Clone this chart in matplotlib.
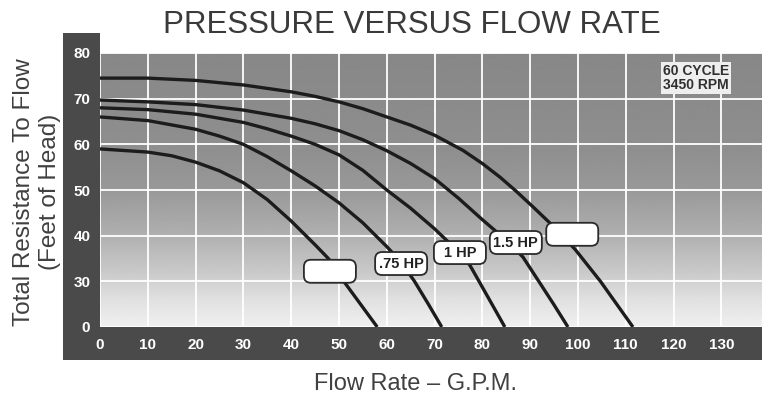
import numpy as np
import matplotlib.pyplot as plt
from matplotlib.patches import Rectangle, FancyBboxPatch
from matplotlib.transforms import ScaledTranslation

# head (ft) against flow (gpm) for each pump size, largest first
gpm_a = [0, 10, 20, 30, 40, 45, 50, 55, 60, 65, 70, 75.9, 80, 83.7, 87,
         90.6, 94.6, 99.4, 104.7, 108.1, 111.5]
head_a = [74.5, 74.5, 74, 73, 71.5, 70.5, 69.3, 67.8, 66, 64.2, 62, 58.7,
          55.8, 52.8, 49.8, 46.3, 42.3, 37, 30, 15, 0]

gpm_b = [0, 10, 20, 30, 40, 45, 50, 55, 60, 65, 70, 75, 80, 85, 88.5,
         91.8, 94.9, 97.9]
head_b = [69.7, 69.3, 68.7, 67.5, 65.7, 64.5, 63, 61, 58.6, 55.8, 52.5,
          48.2, 43.5, 39, 35.3, 30, 15, 0]

gpm_c = [0, 10, 20, 30, 35, 40, 45, 50, 55, 60, 65, 70, 75, 77.4, 79.3,
         82, 84.7]
head_c = [68, 67.6, 66.6, 64.8, 63.4, 61.8, 60, 57.7, 54.3, 50, 46, 41.5,
          36.5, 33.5, 30, 15, 0]

gpm_d = [0, 10, 20, 25, 30, 35, 40, 45, 50, 55, 60, 63, 65.8, 68.7, 71.5]
head_d = [66, 65.2, 63.3, 61.8, 60, 57.3, 54.2, 50.9, 47.2, 42.8, 37.6,
          34.2, 30, 15, 0]

gpm_e = [0, 10, 15, 20, 25, 30, 35, 40, 45, 47.5, 49.5, 51, 54.5, 58]
head_e = [59, 58.3, 57.5, 56.1, 54.2, 51.6, 47.9, 43.2, 38, 35.3, 32.9,
          30, 15, 0]

curves = [(gpm_a, head_a), (gpm_b, head_b), (gpm_c, head_c),
          (gpm_d, head_d), (gpm_e, head_e)]

# tags sitting on the curves
tag_text = ['', '.75 HP', '1 HP', '1.5 HP', '']
tag_gpm = [48.1, 63.0, 75.3, 87.0, 98.8]
tag_head = [32.2, 33.9, 36.3, 38.5, 40.3]

x_ticks = list(range(0, 140, 10))
y_ticks = [0, 30, 40, 50, 60, 70, 80]


# the axis is squeezed below 30 ft: 0-30 takes the room of one 10 ft band
def squeeze(y):
    y = np.asarray(y, dtype=float)
    return np.where(y >= 30, y, 20 + y / 3.0)


def unsqueeze(p):
    p = np.asarray(p, dtype=float)
    return np.where(p >= 30, p, (p - 20) * 3.0)


fig = plt.figure(figsize=(7.62, 3.96), dpi=100)
fig.patch.set_facecolor('white')
ax = fig.add_axes([100 / 762, 1 - 327 / 396, 662 / 762, 274 / 396])

# shaded background, darker at the top
frac = np.linspace(1, 0, 300)
shade = np.interp(frac, [0, 0.1, 0.2, 0.35, 0.5, 0.65, 1],
                  [0.94, 0.88, 0.79, 0.68, 0.6, 0.56, 0.53])
ax.imshow(shade[:, None], cmap='gray', vmin=0, vmax=1, extent=[0, 1, 0, 1],
          transform=ax.transAxes, aspect='auto', zorder=0,
          interpolation='bilinear')

ax.set_yscale('function', functions=(squeeze, unsqueeze))
ax.set_xlim(0, 138.5)
ax.set_ylim(0, 80)
ax.set_xticks(x_ticks)
ax.set_yticks(y_ticks)
ax.set_axisbelow(True)
ax.grid(True, color='white', lw=1.3)
for s in ax.spines.values():
    s.set_visible(False)
ax.tick_params(length=0, labelcolor='white')
ax.tick_params(axis='x', pad=8)
ax.tick_params(axis='y', pad=7)
for lab in ax.get_xticklabels() + ax.get_yticklabels():
    lab.set_fontfamily('Liberation Sans')
    lab.set_fontweight('bold')
    lab.set_fontsize(11)

for g, h in curves:
    ax.plot(g, h, color='#1c1c1c', lw=2.4, solid_joinstyle='round',
            solid_capstyle='butt', zorder=3)

for txt, g, h in zip(tag_text, tag_gpm, tag_head):
    tr = fig.dpi_scale_trans + ScaledTranslation(g, h, ax.transData)
    box = FancyBboxPatch((-0.26, -0.115), 0.52, 0.23,
                         boxstyle='round,pad=0,rounding_size=0.07',
                         facecolor='white', edgecolor='#2a2a2a', lw=1.3,
                         transform=tr, zorder=4, clip_on=False)
    ax.add_patch(box)
    if txt:
        ax.text(g, h, txt, ha='center', va='center', fontsize=10.5,
                fontweight='bold', color='#222222', zorder=5,
                family='Liberation Sans')

ax.text(0.9, 0.909, '60 CYCLE\n3450 RPM', transform=ax.transAxes,
        ha='center', va='center', multialignment='left', fontsize=10,
        fontweight='bold', color='#303030', family='Liberation Sans',
        linespacing=1.05, zorder=5,
        bbox=dict(boxstyle='square,pad=0.15', facecolor='#eeeeee',
                  edgecolor='none'))

# dark frame on the left and bottom
band = '#4a4a4a'
fig.patches.append(Rectangle((63 / 762, 1 - 360 / 396), 37 / 762, 327 / 396,
                             transform=fig.transFigure, facecolor=band,
                             edgecolor='none', zorder=-1))
fig.patches.append(Rectangle((63 / 762, 1 - 360 / 396), 699 / 762, 33 / 396,
                             transform=fig.transFigure, facecolor=band,
                             edgecolor='none', zorder=-1))

fig.text(0.541, 0.937, 'PRESSURE VERSUS FLOW RATE', ha='center', va='center',
         fontsize=22.5, color='#3a3a3a', family='Liberation Sans')
fig.text(24 / 762, 0.515, 'Total Resistance To Flow', rotation=90,
         ha='center', va='center', fontsize=17.5, color='#404040',
         family='Liberation Sans')
fig.text(50 / 762, 0.515, '(Feet of Head)', rotation=90,
         ha='center', va='center', fontsize=17.5, color='#404040',
         family='Liberation Sans')
fig.text(416 / 762, 1 - 384 / 396, 'Flow Rate – G.P.M.', ha='center',
         va='center', fontsize=17, color='#404040', family='Liberation Sans')

fig.savefig('out.png', dpi=100)
